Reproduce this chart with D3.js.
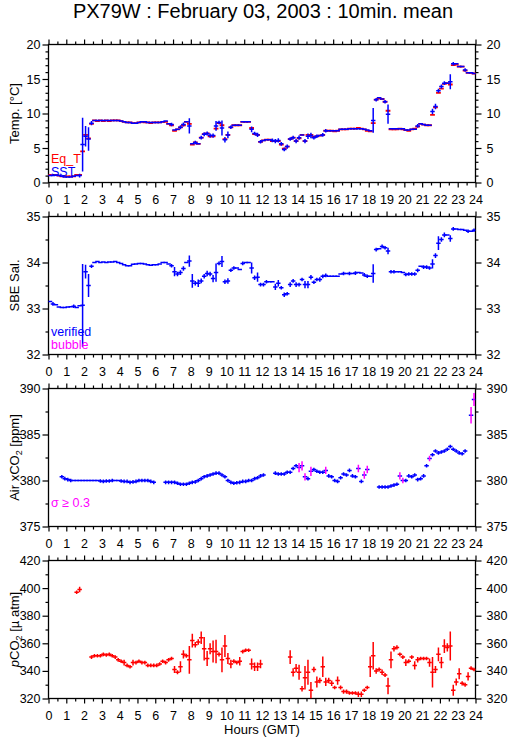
<!DOCTYPE html>
<html><head><meta charset="utf-8">
<script src="https://cdn.jsdelivr.net/npm/d3@7"></script>
<style>
body{margin:0;background:#fff}
svg{display:block}
text{font-family:"Liberation Sans",Arial,Helvetica,sans-serif}
</style>
</head><body>
<svg id="c" width="509" height="739"></svg>
<script>
const title = "PX79W : February 03, 2003 : 10min. mean";
const hourTicks = d3.range(0, 25);
const xLabel = "Hours (GMT)";

// 10-minute means, 6 per hour (rows = hours 0..23)
const sst = [
1.0,1.0,1.1,1.0,0.9,0.8,
0.8,0.8,0.9,1.0,1.0,5.5,
6.7,6.3,8.6,9.0,9.0,9.0,
9.0,9.0,9.0,9.0,9.0,9.0,
8.9,8.8,8.7,8.7,8.6,8.6,
8.7,8.8,8.8,8.7,8.7,8.7,
8.7,8.7,8.8,8.9,8.5,8.4,
7.6,7.7,8.0,8.4,8.8,8.2,
5.6,5.8,5.6,6.5,7.0,7.1,
6.8,6.8,8.2,8.7,7.9,6.2,
6.9,8.0,8.3,8.3,8.3,8.8,
8.8,8.8,7.7,7.1,6.9,5.9,
6.1,6.2,6.2,6.1,6.0,6.1,
5.6,4.8,5.2,6.3,6.5,6.0,
6.5,6.9,6.0,6.7,6.8,6.5,
6.7,6.8,6.9,7.5,7.5,7.5,
7.5,7.5,7.7,7.7,7.7,7.8,
7.8,7.8,7.8,7.8,7.7,7.6,
7.5,9.0,12.0,12.3,12.1,11.7,
9.9,7.8,7.8,7.8,7.8,7.8,
7.6,7.6,7.7,7.7,8.2,8.5,
8.4,8.3,8.3,10.3,11.0,13.3,
13.9,14.4,14.4,14.6,17.2,17.2,
16.8,16.8,16.3,15.9,15.9,15.8];
const sstSd = [
0,0,0,0,0,0,
0,0,0,0,0.2,3.9,
1.5,1.7,0.3,0,0,0,
0,0,0,0,0,0,
0,0,0,0,0,0,
0,0,0,0,0,0,
0,0,0,0,0,0.2,
0,0,0.3,0.3,0,1.1,
0,0.2,0,0.2,0.3,0.3,
0.3,0.3,0.7,0.2,1.1,0.4,
0.5,0.2,0,0,0,0,
0,0,0.4,0.2,0.3,0.2,
0,0,0,0.2,0.3,0.3,
0.2,0.2,0.3,0.2,0.2,0.3,
0.3,0,0.3,0.4,0.4,0.2,
0.2,0,0.2,0.2,0,0,
0,0,0,0,0,0,
0,0,0,0,0,0,
0,1.8,0.2,0,0,0.2,
1.4,0,0,0,0,0,
0,0,0,0,0.2,0,
0,0,0,0.4,0.4,0.3,
0.3,0.2,0,1.1,0.2,0,
0,0,0.2,0,0,0];
const eqT = [
1.1,1.1,1.1,1.0,0.9,0.9,
0.9,0.9,0.9,1.1,1.1,4.5,
6.9,6.4,8.5,9.0,8.9,9.0,
8.9,9.0,8.9,9.0,9.0,9.0,
8.9,8.8,8.7,8.7,8.6,8.6,
8.7,8.8,8.7,8.7,8.6,8.7,
8.7,8.7,8.8,8.8,8.5,8.3,
7.5,7.7,8.0,8.3,8.8,8.5,
5.5,5.8,5.6,6.5,7.0,7.1,
6.7,6.7,7.8,8.6,8.3,6.3,
6.9,8.0,8.3,8.3,8.3,8.8,
8.8,8.8,7.9,7.0,6.9,5.9,
6.1,6.2,6.2,6.0,6.0,6.0,
5.5,4.9,5.2,6.3,6.5,6.0,
6.4,6.9,6.0,6.9,6.9,6.6,
6.7,6.8,6.9,7.5,7.5,7.5,
7.4,7.5,7.7,7.7,7.7,7.8,
7.8,7.8,7.9,7.8,7.7,7.5,
7.4,8.6,12.0,12.2,12.1,11.7,
10.4,7.7,7.7,7.7,7.8,7.7,
7.6,7.5,7.7,7.8,8.1,8.5,
8.4,8.3,8.3,9.8,10.9,13.0,
13.6,14.3,14.4,14.2,17.0,17.1,
16.8,16.8,16.2,15.9,15.9,15.8];

const sal = [
33.15,33.10,33.08,33.03,33.02,33.02,
33.03,33.04,33.05,33.02,33.06,33.07,
33.80,33.50,33.92,34.00,34.02,34.00,
34.01,34.00,34.01,34.01,34.02,34.00,
33.98,33.95,33.93,33.93,33.96,33.97,
33.98,33.98,33.97,33.95,33.94,33.95,
33.95,33.97,34.00,34.00,33.97,33.93,
33.80,33.75,33.78,33.87,34.00,34.03,
33.60,33.55,33.55,33.60,33.70,33.76,
33.75,33.65,33.78,33.98,34.02,33.58,
33.60,33.83,33.88,33.88,33.85,33.98,
34.00,34.00,33.88,33.67,33.68,33.52,
33.52,33.58,33.58,33.58,33.47,33.55,
33.45,33.30,33.32,33.52,33.60,33.52,
33.52,33.63,33.52,33.52,33.68,33.57,
33.63,33.63,33.70,33.72,33.70,33.70,
33.70,33.70,33.75,33.76,33.76,33.76,
33.76,33.77,33.78,33.77,33.73,33.70,
33.70,33.76,34.28,34.30,34.35,34.32,
34.25,33.80,33.80,33.80,33.80,33.78,
33.74,33.75,33.75,33.75,33.83,33.92,
33.90,33.90,33.88,33.97,34.15,34.42,
34.50,34.60,34.60,34.52,34.73,34.73,
34.72,34.72,34.70,34.68,34.68,34.70];
const salSd = [
0,0.02,0,0,0,0,
0,0,0.02,0,0,0.9,
0.15,0.25,0.03,0,0,0,
0,0,0,0,0,0,
0,0,0,0,0,0,
0,0,0,0,0,0,
0,0,0,0,0,0.02,
0.1,0.05,0.05,0.05,0,0.12,
0.15,0.05,0.08,0.05,0.05,0.06,
0.05,0.08,0.2,0.03,0.12,0.05,
0.06,0.03,0.03,0,0,0.02,
0,0,0.12,0.05,0.1,0.03,
0.03,0.03,0,0,0.07,0.07,
0.03,0.05,0.04,0.05,0.04,0.05,
0.04,0.03,0.08,0.08,0.05,0.03,
0.03,0.05,0.04,0.03,0,0,
0,0,0,0.02,0,0.02,
0,0.02,0,0,0.02,0.02,
0,0.2,0.02,0,0.02,0.02,
0.07,0.02,0.02,0,0,0,
0.03,0.03,0.03,0.02,0.04,0,
0.02,0.02,0.02,0.1,0.05,0.15,
0.05,0.05,0,0.07,0.02,0,
0,0,0,0.02,0,0.02];

const xco2 = [
null,null,null,null,380.4,380.2,
380.1,380.0,380.0,380.0,380.0,380.0,
380.0,380.0,380.0,380.0,380.0,379.95,
379.9,379.95,379.95,380.0,380.0,380.0,
379.95,379.9,379.9,379.8,379.85,379.9,
380.0,380.0,380.0,380.0,379.9,379.8,
null,null,null,379.8,379.8,379.8,
379.8,379.7,379.6,379.6,379.6,379.7,
379.8,379.85,380.0,380.2,380.4,380.5,
380.6,380.7,380.8,380.8,380.6,380.4,
380.0,379.8,379.7,379.75,379.8,379.9,
379.9,380.0,380.0,380.2,380.3,380.5,
380.6,null,null,null,380.8,380.7,
380.7,380.7,380.9,380.9,381.3,381.6,
381.4,381.6,380.4,380.2,381.0,381.2,
381.0,380.9,380.9,381.1,380.5,380.4,
380.0,379.9,380.3,380.7,380.6,381.1,
380.5,380.4,381.3,379.9,380.6,381.2,
null,null,null,379.3,379.3,379.3,
379.3,379.4,379.5,379.6,380.5,380.0,
380.0,380.5,380.4,380.6,380.1,380.2,
380.5,381.6,382.4,382.8,383.2,383.0,
383.1,383.2,383.4,383.7,383.4,383.2,
383.0,382.9,383.2,null,387.1,388.8];
const xco2Sd = [
0,0,0,0,0.1,0.1,
0.05,0.05,0,0,0,0,
0,0,0,0,0,0.05,
0.05,0.05,0.05,0.1,0,0,
0.05,0.1,0.05,0.05,0.05,0.05,
0.05,0.05,0.05,0.1,0.05,0.05,
0,0,0,0.05,0.05,0.05,
0.05,0.05,0.05,0.05,0.05,0.05,
0.05,0.05,0.1,0.1,0.1,0.1,
0.1,0.1,0.1,0.1,0.1,0.1,
0.1,0.05,0.05,0.05,0.05,0.1,
0.05,0.05,0.05,0.1,0.1,0.1,
0.1,0,0,0,0.05,0.05,
0.05,0.05,0.1,0.05,0.15,0.15,
0.5,0.5,0.4,0.15,0.5,0.15,
0.1,0.1,0.1,0.4,0.2,0.15,
0.1,0.1,0.15,0.15,0.15,0.2,
0.15,0.15,0.4,0.2,0.4,0.4,
0,0,0,0.05,0.05,0.05,
0.05,0.05,0.05,0.1,0.4,0.3,
0.1,0.15,0.15,0.2,0.1,0.1,
0.15,0.2,0.3,0.15,0.15,0.1,
0.1,0.1,0.1,0.1,0.1,0.1,
0.1,0.1,0.15,0,0.9,0.7];

const pco2 = [
null,null,null,null,null,null,
null,null,null,397,399,null,
null,null,350,351,351,351,
352,351.5,352,351,350,348,
347,346,344,343,346,346,
347,346,346,344,344,344,
344,345,347,346,348,349,
341,339,343,352,351,348,
362,359,361,364,356,349,
356,354,354,352,348,358,
349,345,347,346,347,354,
355,355,345,343,343,345,
null,null,null,null,null,null,
null,null,null,350,339,342,
339,327,335,339,326,341,
332,333,343,332,333,331,
328,333,328,325,325,324,
324,324,323,323,326,328,
343,351,340,341,339,337,
329,348,356,357,352,350,
346,347,350,344,348,349,
349,349,346,339,341,352,
346,358,357,358,326,332,
338,331,330,336,342,341];
const pco2Sd = [
0,0,0,0,0,0,
0,0,0,1,2,0,
0,0,0.5,0.5,0.5,0.5,
0.5,1,0.5,0.5,0.5,0.5,
0.5,2,0.5,0.5,2,0.5,
0.5,0.5,0.5,0.5,0.5,0.5,
0.5,0.5,0.5,1,1,0.5,
2.5,1.5,4,3,1.5,10,
5,2,2,4.5,8.5,5.5,
4,8,8.5,1.5,9,8,
4,3,1.5,1,3,1,
0.5,0.5,4,3,3,3,
0,0,0,0,0,0,
0,0,0,5,3,3,
5.5,2,8.5,9,6,2,
4,2,7.5,3,2,2,
1,3,1.5,1.5,1.5,1,
1,1,2,2,1,0.5,
7.5,10,2,1.5,2,1.5,
6,6,2,1.5,1,1,
2.5,1.5,1,3,2,1,
1,1,3,11,2.5,5,
4,5,3,10.5,4,2.5,
4,1.5,1.5,3,1,1];

const BLUE = "#0000ff", RED = "#ff0000", MAG = "#ff00ff";
const svg = d3.select("#c");
const x = d3.scaleLinear([0, 24], [48.5, 475.5]);
const binT = i => (i + 0.5) / 6;   // centre of 10-min bin i
const halfBin = 1 / 12;

svg.append("text").attr("x", 263).attr("y", 18).attr("text-anchor", "middle")
  .attr("font-size", 20).text(title);

const panels = [
  {top: 44.5, bottom: 182.5, domain: [0, 20], major: 5, minor: 1},
  {top: 216.5, bottom: 354.5, domain: [32, 35], major: 1, minor: 0.5},
  {top: 388.5, bottom: 526.5, domain: [375, 390], major: 5, minor: 2.5},
  {top: 560.5, bottom: 698.5, domain: [320, 420], major: 20, minor: 10}
];

function range(a, b, s) { const r = []; for (let v = a; v <= b + 1e-9; v += s) r.push(+v.toFixed(4)); return r; }

function styleAxis(g, fs) {
  g.select(".domain").remove();
  g.selectAll(".tick line").attr("stroke", "#000").attr("stroke-width", 1.2);
  g.selectAll(".tick text").attr("font-size", fs).attr("fill", "#000")
    .attr("font-family", '"Liberation Sans",Arial,sans-serif');
}

panels.forEach((p, k) => {
  const y = d3.scaleLinear(p.domain, [p.bottom, p.top]);
  p.y = y;
  const g = svg.append("g");
  const majY = range(p.domain[0], p.domain[1], p.major);
  const minY = range(p.domain[0], p.domain[1], p.minor).filter(v => !majY.some(m => Math.abs(m - v) < 1e-6));
  const minX = range(0.5, 23.5, 1);
  g.append("g").attr("transform", `translate(0,${p.bottom})`)
    .call(d3.axisBottom(x).tickValues(hourTicks).tickSize(5).tickPadding(8).tickFormat(d3.format("d")))
    .call(a => styleAxis(a, 12.5));
  g.append("g").attr("transform", `translate(0,${p.bottom})`)
    .call(d3.axisBottom(x).tickValues(minX).tickSize(3).tickFormat(""))
    .call(a => styleAxis(a, 12));
  g.append("g").attr("transform", `translate(0,${p.top})`)
    .call(d3.axisTop(x).tickValues(hourTicks).tickSize(5).tickFormat(""))
    .call(a => styleAxis(a, 12));
  g.append("g").attr("transform", `translate(0,${p.top})`)
    .call(d3.axisTop(x).tickValues(minX).tickSize(3).tickFormat(""))
    .call(a => styleAxis(a, 12));
  g.append("g").attr("transform", `translate(${x(0)},0)`)
    .call(d3.axisLeft(y).tickValues(majY).tickSize(6).tickPadding(2).tickFormat(d3.format("d")))
    .call(a => styleAxis(a, 12.5));
  g.append("g").attr("transform", `translate(${x(0)},0)`)
    .call(d3.axisLeft(y).tickValues(minY).tickSize(3).tickFormat(""))
    .call(a => styleAxis(a, 12));
  g.append("g").attr("transform", `translate(${x(24)},0)`)
    .call(d3.axisRight(y).tickValues(majY).tickSize(6).tickPadding(5).tickFormat(d3.format("d")))
    .call(a => styleAxis(a, 12.5));
  g.append("g").attr("transform", `translate(${x(24)},0)`)
    .call(d3.axisRight(y).tickValues(minY).tickSize(3).tickFormat(""))
    .call(a => styleAxis(a, 12));
  g.append("rect").attr("x", x(0)).attr("y", p.top).attr("width", x(24) - x(0))
    .attr("height", p.bottom - p.top).attr("fill", "none").attr("stroke", "#000").attr("stroke-width", 1.3);
  svg.append("clipPath").attr("id", "clip" + k).append("rect")
    .attr("x", x(0)).attr("y", p.top).attr("width", x(24) - x(0)).attr("height", p.bottom - p.top);
});

function drawSeries(pi, vals, sds, hColor, vColorFn, hw) {
  const p = panels[pi], y = p.y;
  const g = svg.append("g").attr("clip-path", `url(#clip${pi})`);
  const pts = vals.map((v, i) => ({t: binT(i), v, sd: sds ? sds[i] : 0})).filter(d => d.v != null);
  g.selectAll(null).data(pts).join("line")
    .attr("x1", d => x(d.t - halfBin)).attr("x2", d => x(d.t + halfBin))
    .attr("y1", d => y(d.v)).attr("y2", d => y(d.v))
    .attr("stroke", hColor).attr("stroke-width", hw).attr("stroke-linecap", "square");
  g.selectAll(null).data(pts.filter(d => d.sd > 0)).join("line")
    .attr("x1", d => x(d.t)).attr("x2", d => x(d.t))
    .attr("y1", d => Math.max(y(d.v - d.sd), y(d.v) + 1.8))
    .attr("y2", d => Math.min(y(d.v + d.sd), y(d.v) - 1.8))
    .attr("stroke", d => vColorFn(d)).attr("stroke-width", 1.5);
}

drawSeries(0, eqT, null, RED, () => RED, 1.8);
drawSeries(0, sst, sstSd, BLUE, () => BLUE, 1.5);
drawSeries(1, sal, salSd, BLUE, () => BLUE, 1.5);
drawSeries(2, xco2, xco2Sd, BLUE, d => d.sd >= 0.3 ? MAG : BLUE, 1.5);
drawSeries(3, pco2, pco2Sd, RED, () => RED, 1.5);

const leg = (tx, ty, txt, col) => svg.append("text").attr("x", tx).attr("y", ty)
  .attr("font-size", 12.5).attr("fill", col).text(txt);
leg(51, 163, "Eq_T", RED);
leg(51, 176, "SST", BLUE);
leg(51, 336, "verified", BLUE);
leg(51, 348.5, "bubble", MAG);
leg(51, 507, "σ ≥ 0.3", MAG);

function yTitle(pi, build) {
  const p = panels[pi];
  const t = svg.append("text").attr("transform", `translate(19,${(p.top + p.bottom) / 2}) rotate(-90)`)
    .attr("text-anchor", "middle").attr("font-size", 13);
  build(t);
}
yTitle(0, t => t.text("Temp. [°C]"));
yTitle(1, t => t.text("SBE Sal."));
yTitle(2, t => {
  t.append("tspan").text("Air xCO");
  t.append("tspan").attr("font-size", 9).attr("dy", 3).text("2");
  t.append("tspan").attr("dy", -3).text(" [ppm]");
});
yTitle(3, t => {
  t.append("tspan").attr("font-style", "italic").text("p");
  t.append("tspan").text("CO");
  t.append("tspan").attr("font-size", 9).attr("dy", 3).text("2");
  t.append("tspan").attr("dy", -3).text(" [µ atm]");
});

svg.append("text").attr("x", 262).attr("y", 734).attr("text-anchor", "middle")
  .attr("font-size", 13).text(xLabel);
</script>
</body></html>
